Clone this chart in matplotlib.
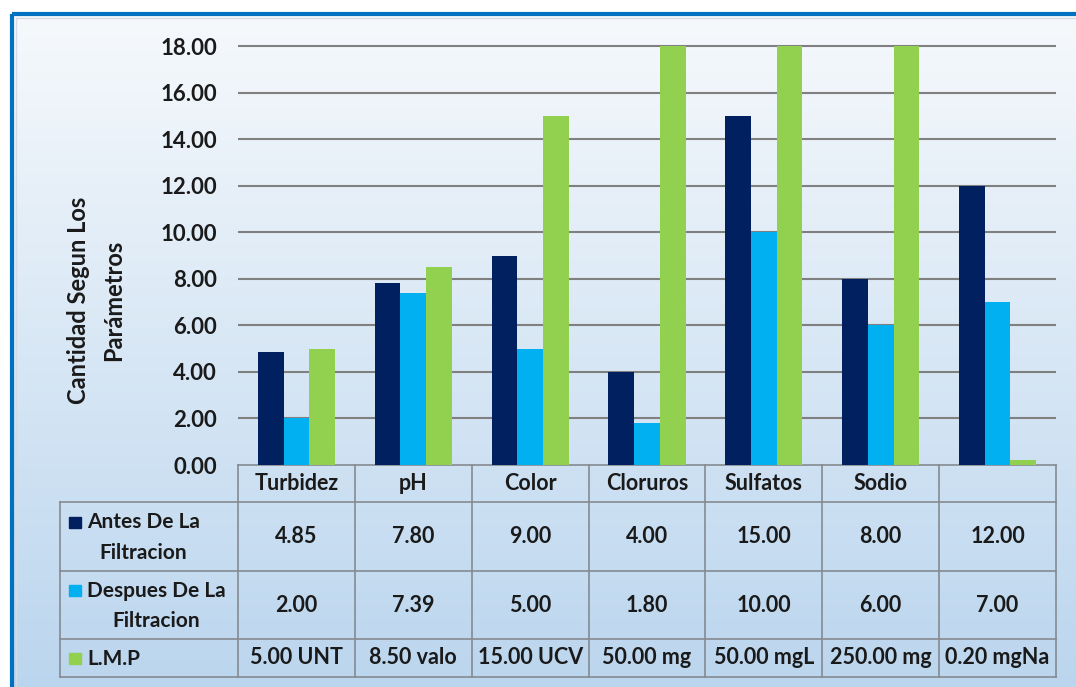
import numpy as np
import matplotlib.pyplot as plt
from matplotlib.patches import Rectangle

plt.rcParams['font.family'] = ['Lato', 'DejaVu Sans']
plt.rcParams['font.weight'] = 'bold'

# datos
parametros = ["Turbidez", "pH", "Color", "Cloruros", "Sulfatos", "Sodio", ""]
antes = [4.85, 7.80, 9.00, 4.00, 15.00, 8.00, 12.00]
despues = [2.00, 7.39, 5.00, 1.80, 10.00, 6.00, 7.00]
lmp = [5.00, 8.50, 15.00, 50.00, 50.00, 250.00, 0.20]
lmp_labels = ["5.00 UNT", "8.50 valo", "15.00 UCV", "50.00 mg", "50.00 mgL", "250.00 mg", "0.20 mgNa"]
series_names = ["Antes De La\nFiltracion", "Despues De La\nFiltracion", "L.M.P"]
colores = ["#002060", "#00b0f0", "#92d050"]
yticks = np.arange(0, 20, 2)

W, H = 1076, 687
fig = plt.figure(figsize=(W / 100, H / 100), dpi=100)

# fondo en pixeles
bg = fig.add_axes([0, 0, 1, 1], zorder=0)
bg.set_xlim(0, W)
bg.set_ylim(H, 0)
bg.axis('off')
grad = np.linspace(0, 1, 256).reshape(-1, 1)
top = np.array([246, 249, 252]) / 255
bot = np.array([186, 213, 238]) / 255
img = top + grad[..., None] * (bot - top)
bg.imshow(img, extent=(12, W + 10, H + 10, 14), aspect='auto', zorder=0)
bg.add_patch(Rectangle((15.5, 17.5), W, H, fill=False, ec="#d4dbe4", lw=1, zorder=2))
bg.add_patch(Rectangle((12, 14), W + 20, H + 20, fill=False, ec="#0070c0", lw=3, zorder=3))

# tabla
x0, x1 = 238, 1056
col_edges = np.linspace(x0, x1, 8)
row_edges = [465, 502, 571, 639, 677]
lc = "#858a90"
bg.plot([x0, x1], [465, 465], color=lc, lw=1.2, zorder=4)
for y in row_edges[1:]:
    bg.plot([60, x1], [y, y], color=lc, lw=1.2, zorder=4)
bg.plot([60, 60], [502, 677], color=lc, lw=1.2, zorder=4)
for x in col_edges:
    bg.plot([x, x], [465, 677], color=lc, lw=1.2, zorder=4)

fs = 15.5
centers = (col_edges[:-1] + col_edges[1:]) / 2
row_c = [(row_edges[i] + row_edges[i + 1]) / 2 for i in range(4)]
for cx, name in zip(centers, parametros):
    bg.text(cx, row_c[0], name, ha='center', va='center', fontsize=fs, color='#1a1a1a')
filas = [["%.2f" % v for v in antes], ["%.2f" % v for v in despues], lmp_labels]
for r, fila in enumerate(filas):
    for cx, t in zip(centers, fila):
        bg.text(cx, row_c[r + 1], t, ha='center', va='center', fontsize=fs, color='#1a1a1a')

for r, (name, c) in enumerate(zip(series_names, colores)):
    yc = row_c[r + 1]
    n = name.count("\n") + 1
    sq_c = yc - 14.5 * (n - 1)
    bg.add_patch(Rectangle((69, sq_c - 5.5), 12, 11, color=c, zorder=5))
    bg.text(87, yc + 1, name, ha='left', va='center', multialignment='center',
            fontsize=15, linespacing=1.65, color='#1a1a1a')

bg.text(96, 300, "Cantidad Segun Los\nParámetros", rotation=90, ha='center', va='center',
        multialignment='center', fontsize=17, linespacing=1.6, color='#1a1a1a')

# barras
ax = fig.add_axes([x0 / W, (H - 465) / H, (x1 - x0) / W, 419 / H], zorder=1)
ax.patch.set_visible(False)
x = np.arange(len(parametros))
w = 0.22
for i, (vals, c) in enumerate(zip([antes, despues, lmp], colores)):
    ax.bar(x + (i - 1) * w, vals, width=w, color=c, zorder=3)
ax.set_xlim(-0.5, 6.5)
ax.set_ylim(0, 18)
ax.hlines(yticks[1:], -0.5, 6.5, color="#808080", lw=1.5, zorder=1, clip_on=False)
ax.set_yticks(yticks)
ax.set_yticklabels(["%.2f" % v for v in yticks], fontsize=16, color='#1a1a1a')
ax.tick_params(axis='y', length=0, pad=15)
ax.set_xticks([])
for s in ax.spines.values():
    s.set_visible(False)

fig.savefig("out.png", dpi=100)
